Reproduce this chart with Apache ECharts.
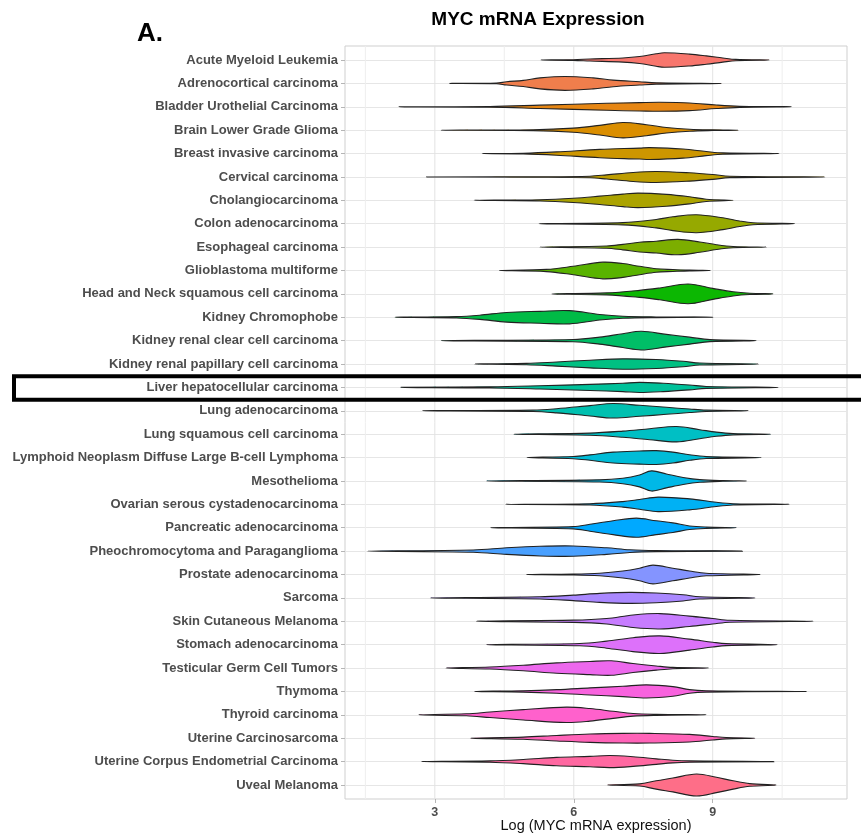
<!DOCTYPE html>
<html>
<head>
<meta charset="utf-8">
<script src="https://cdn.jsdelivr.net/npm/echarts@6/dist/echarts.min.js"></script>
<style>
  html, body { margin: 0; padding: 0; background: #fff; }
  #chart { width: 861px; height: 836px; }
</style>
</head>
<body>
<div id="chart"></div>
<script>
// ---------- DATA ----------
const categories = [
  "Acute Myeloid Leukemia",
  "Adrenocortical carcinoma",
  "Bladder Urothelial Carcinoma",
  "Brain Lower Grade Glioma",
  "Breast invasive carcinoma",
  "Cervical carcinoma",
  "Cholangiocarcinoma",
  "Colon adenocarcinoma",
  "Esophageal carcinoma",
  "Glioblastoma multiforme",
  "Head and Neck squamous cell carcinoma",
  "Kidney Chromophobe",
  "Kidney renal clear cell carcinoma",
  "Kidney renal papillary cell carcinoma",
  "Liver hepatocellular carcinoma",
  "Lung adenocarcinoma",
  "Lung squamous cell carcinoma",
  "Lymphoid Neoplasm Diffuse Large B-cell Lymphoma",
  "Mesothelioma",
  "Ovarian serous cystadenocarcinoma",
  "Pancreatic adenocarcinoma",
  "Pheochromocytoma and Paraganglioma",
  "Prostate adenocarcinoma",
  "Sarcoma",
  "Skin Cutaneous Melanoma",
  "Stomach adenocarcinoma",
  "Testicular Germ Cell Tumors",
  "Thymoma",
  "Thyroid carcinoma",
  "Uterine Carcinosarcoma",
  "Uterine Corpus Endometrial Carcinoma",
  "Uveal Melanoma"
];

// minimum / maximum of each group (violin tail ends)
const tailMin = [5.29, 3.32, 2.23, 3.14, 4.02, 2.82, 3.85, 5.25, 5.27, 4.39, 5.53, 2.14, 3.14, 3.86, 2.27, 2.73,
                 4.71, 4.99, 4.12, 4.53, 4.20, 1.55, 4.98, 2.91, 3.90, 4.12, 3.24, 3.86, 2.65, 3.77, 2.71, 6.73];
const tailMax = [10.22, 9.19, 10.70, 9.55, 10.43, 11.42, 9.44, 10.77, 10.16, 8.95, 10.30, 9.00, 9.94, 9.99, 10.41, 9.77,
                 10.25, 10.05, 9.73, 10.65, 9.51, 9.64, 10.03, 9.91, 11.17, 10.39, 8.91, 11.02, 8.86, 9.91, 10.32, 10.37];

// density profile of each violin body: [log expression, relative density]
const bodyProfiles = [
  [[5.99,0.03],[6.35,0.09],[7.06,0.19],[7.42,0.32],[7.78,0.57],[7.96,0.66],[8.50,0.54],[8.86,0.38],[9.22,0.19],[9.50,0.06]],
  [[4.33,0.03],[4.55,0.15],[4.91,0.28],[5.27,0.50],[5.81,0.63],[6.42,0.50],[6.85,0.30],[7.42,0.15],[7.78,0.06]],
  [[4.19,0.03],[5.27,0.15],[6.71,0.32],[7.42,0.38],[7.86,0.41],[8.50,0.35],[9.08,0.16],[9.58,0.05]],
  [[5.12,0.04],[5.99,0.19],[6.56,0.44],[7.06,0.70],[7.57,0.50],[8.00,0.25],[8.50,0.09],[9.00,0.03]],
  [[4.91,0.03],[5.63,0.15],[6.56,0.38],[7.42,0.50],[7.64,0.54],[8.36,0.41],[8.86,0.19],[9.22,0.06]],
  [[5.27,0.02],[6.35,0.07],[6.71,0.19],[7.28,0.41],[7.78,0.50],[8.50,0.38],[9.00,0.22],[9.37,0.06]],
  [[5.27,0.06],[5.99,0.19],[6.56,0.38],[7.06,0.57],[7.39,0.66],[8.00,0.54],[8.50,0.32],[8.86,0.10]],
  [[7.06,0.10],[7.78,0.38],[8.14,0.63],[8.65,0.82],[9.22,0.54],[9.58,0.25],[9.87,0.09]],
  [[6.71,0.10],[7.06,0.25],[7.42,0.44],[7.78,0.54],[8.25,0.70],[8.72,0.47],[9.08,0.22],[9.44,0.06]],
  [[5.41,0.10],[5.99,0.38],[6.63,0.76],[7.06,0.63],[7.42,0.38],[7.78,0.16],[8.14,0.09],[8.50,0.03]],
  [[6.71,0.09],[7.42,0.32],[7.86,0.54],[8.47,0.90],[9.00,0.50],[9.44,0.19],[9.80,0.06]],
  [[3.47,0.06],[3.97,0.19],[4.55,0.44],[5.27,0.54],[5.91,0.60],[6.56,0.25],[7.06,0.09],[7.78,0.03]],
  [[5.99,0.10],[6.56,0.32],[7.06,0.63],[7.46,0.85],[8.00,0.57],[8.50,0.32],[8.94,0.09]],
  [[4.98,0.06],[5.63,0.19],[6.35,0.35],[7.06,0.47],[7.78,0.41],[8.36,0.25],[8.72,0.09]],
  [[4.19,0.05],[5.27,0.15],[6.35,0.28],[7.06,0.38],[7.42,0.46],[7.93,0.38],[8.50,0.22],[8.86,0.09]],
  [[5.12,0.06],[5.63,0.19],[6.35,0.47],[6.85,0.66],[7.42,0.50],[8.00,0.32],[8.50,0.16],[8.86,0.06]],
  [[6.35,0.10],[7.06,0.28],[7.64,0.50],[8.22,0.70],[8.72,0.41],[9.08,0.19],[9.44,0.06]],
  [[5.99,0.10],[6.35,0.25],[6.85,0.50],[7.42,0.60],[7.78,0.63],[8.14,0.50],[8.50,0.25],[8.86,0.09]],
  [[6.56,0.10],[7.06,0.25],[7.42,0.54],[7.68,0.92],[8.00,0.63],[8.36,0.32],[8.72,0.12],[9.22,0.03]],
  [[6.35,0.06],[7.06,0.25],[7.42,0.44],[7.82,0.66],[8.50,0.50],[9.08,0.19],[9.44,0.06]],
  [[5.99,0.10],[6.35,0.32],[6.85,0.63],[7.35,0.87],[7.78,0.63],[8.14,0.44],[8.50,0.16],[8.86,0.06]],
  [[3.83,0.10],[4.55,0.30],[5.27,0.44],[5.99,0.47],[6.71,0.30],[7.21,0.12],[7.78,0.05]],
  [[5.99,0.04],[6.56,0.12],[7.06,0.32],[7.42,0.57],[7.71,0.85],[8.14,0.57],[8.50,0.32],[8.86,0.12]],
  [[5.27,0.10],[5.99,0.25],[6.56,0.41],[7.21,0.50],[7.78,0.44],[8.36,0.28],[8.72,0.10]],
  [[5.99,0.10],[6.71,0.25],[7.28,0.57],[7.86,0.70],[8.50,0.47],[9.00,0.25],[9.37,0.09]],
  [[6.13,0.10],[6.71,0.32],[7.28,0.63],[7.86,0.80],[8.50,0.50],[9.00,0.22],[9.29,0.09]],
  [[4.19,0.09],[4.91,0.25],[5.63,0.47],[6.35,0.60],[6.81,0.66],[7.28,0.41],[7.78,0.19],[8.14,0.06]],
  [[4.91,0.06],[5.63,0.16],[6.35,0.32],[7.06,0.47],[7.57,0.60],[8.14,0.44],[8.50,0.16],[8.86,0.06]],
  [[3.68,0.09],[4.19,0.25],[4.91,0.47],[5.84,0.70],[6.35,0.57],[6.85,0.32],[7.28,0.12],[7.78,0.05]],
  [[4.91,0.10],[5.63,0.25],[6.35,0.38],[7.06,0.44],[7.64,0.44],[8.50,0.35],[9.00,0.16],[9.29,0.06]],
  [[4.19,0.06],[4.91,0.19],[5.63,0.38],[6.35,0.47],[6.78,0.55],[7.28,0.44],[7.78,0.25],[8.14,0.12],[8.50,0.06]],
  [[7.42,0.10],[7.78,0.38],[8.14,0.63],[8.65,1.00],[9.08,0.70],[9.44,0.38],[9.80,0.12]]
];

const majorBreaks = [3, 6, 9];
const minorBreaks = [1.5, 4.5, 7.5, 10.5];
const xLimits = [1.06, 11.9];

// ---------- ggplot-like hue palette ----------
function hcl(h, c, l) {
  const hr = h * Math.PI / 180;
  const U = c * Math.cos(hr), V = c * Math.sin(hr);
  const Xn = 95.047, Yn = 100.0, Zn = 108.883;
  const den = Xn + 15 * Yn + 3 * Zn;
  const un = 4 * Xn / den, vn = 9 * Yn / den;
  const Y = Yn * (l > 7.999592 ? Math.pow((l + 16) / 116, 3) : l / 903.3);
  const u = U / (13 * l) + un, v = V / (13 * l) + vn;
  const X = 9.0 * Y * u / (4 * v);
  const Z = -X / 3 - 5 * Y + 3 * Y / v;
  const x = X / 100, y = Y / 100, z = Z / 100;
  const lin = [
    3.240479 * x - 1.537150 * y - 0.498535 * z,
    -0.969256 * x + 1.875992 * y + 0.041556 * z,
    0.055648 * x - 0.204043 * y + 1.057311 * z
  ];
  const g = lin.map(t => {
    let s = t > 0.00304 ? 1.055 * Math.pow(t, 1 / 2.4) - 0.055 : 12.92 * t;
    s = Math.max(0, Math.min(1, s));
    return Math.round(s * 255);
  });
  return 'rgb(' + g.join(',') + ')';
}
const nCat = categories.length;
const colors = categories.map((_, i) => hcl(15 + 360 * i / nCat, 100, 65));

// ---------- CHART ----------
const chart = echarts.init(document.getElementById('chart'), null, { renderer: 'canvas' });

const panel = { left: 345, right: 14, top: 46, bottom: 37 };
// category rows: ggplot discrete expansion of 0.6 units on each side
const unit = (836 - panel.top - panel.bottom) / (nCat - 1 + 1.2);
const rowTop = panel.top + 0.6 * unit;
const rowBottom = panel.bottom + 0.6 * unit;

const labelFont = '"Liberation Sans", Arial, Helvetica, sans-serif';

const option = {
  backgroundColor: '#ffffff',
  animation: false,
  grid: [
    { left: panel.left, right: panel.right, top: panel.top, bottom: panel.bottom,
      show: true, borderColor: '#cfcfcf', borderWidth: 1, backgroundColor: 'transparent', containLabel: false },
    { left: panel.left, right: panel.right, top: rowTop, bottom: rowBottom, containLabel: false }
  ],
  xAxis: [
    { type: 'value', gridIndex: 0, min: xLimits[0], max: xLimits[1],
      axisLine: { show: false },
      axisTick: { show: true, length: 4, customValues: majorBreaks, lineStyle: { color: '#b5b5b5', width: 1 } },
      axisLabel: { show: true, customValues: majorBreaks, margin: 7, color: '#4d4d4d',
                   fontFamily: labelFont, fontWeight: 'bold', fontSize: 12.5 },
      splitLine: { show: false } },
    { type: 'value', gridIndex: 1, min: xLimits[0], max: xLimits[1], show: false,
      splitLine: { show: false } }
  ],
  yAxis: [
    { type: 'value', gridIndex: 0, min: 0, max: 1, show: false, splitLine: { show: false } },
    { type: 'category', gridIndex: 1, data: categories, inverse: true, boundaryGap: false,
      axisLine: { show: false },
      axisTick: { show: true, length: 4, lineStyle: { color: '#b5b5b5', width: 1 } },
      axisLabel: { show: true, interval: 0, margin: 7, color: '#4d4d4d',
                   fontFamily: labelFont, fontWeight: 'bold', fontSize: 13 },
      splitLine: { show: true, interval: 0, lineStyle: { color: '#e6e6e6', width: 1 } } }
  ],
  series: [
    {
      type: 'custom', name: 'grid', coordinateSystem: 'cartesian2d',
      xAxisIndex: 0, yAxisIndex: 0, silent: true, z: 1,
      data: majorBreaks.map(v => [v, 1]).concat(minorBreaks.map(v => [v, 0])),
      encode: { x: 0 },
      renderItem: function (params, api) {
        const v = api.value(0);
        const major = api.value(1) === 1;
        const p0 = api.coord([v, 0]);
        const p1 = api.coord([v, 1]);
        return { type: 'line', shape: { x1: p0[0], y1: p0[1], x2: p1[0], y2: p1[1] },
                 style: { stroke: major ? '#e3e3e3' : '#eeeeee', lineWidth: 1 } };
      }
    },
    {
      type: 'custom', name: 'violins', coordinateSystem: 'cartesian2d',
      xAxisIndex: 1, yAxisIndex: 1, silent: true, z: 3,
      data: categories.map((c, i) => [tailMin[i], i, tailMax[i]]),
      encode: { x: [0, 2], y: 1 },
      renderItem: function (params, api) {
        const i = api.value(1);
        const pts = [[tailMin[i], 0]].concat(bodyProfiles[i], [[tailMax[i], 0]]);
        const band = Math.abs(api.coord([tailMin[i], 1])[1] - api.coord([tailMin[i], 0])[1]);
        const half = 0.47 * band;
        const top = pts.map(p => { const c = api.coord([p[0], i]); return [c[0], c[1] - p[1] * half]; });
        const bottom = pts.slice(1, -1).reverse().map(p => { const c = api.coord([p[0], i]); return [c[0], c[1] + p[1] * half]; });
        return {
          type: 'polygon',
          shape: { points: top.concat(bottom), smooth: 0.35 },
          style: { fill: colors[i], stroke: '#222222', lineWidth: 1.1 }
        };
      }
    }
  ],
  graphic: [
    { type: 'text', x: 538, y: 19.5, z: 10,
      style: { text: 'MYC mRNA Expression', x: 0, y: 0, textAlign: 'center', textVerticalAlign: 'middle',
               font: 'bold 19px ' + labelFont, fill: '#000' } },
    { type: 'text', x: 137, y: 34, z: 10,
      style: { text: 'A.', x: 0, y: 0, textAlign: 'left', textVerticalAlign: 'middle',
               font: 'bold 26px ' + labelFont, fill: '#000' } },
    { type: 'text', x: 596, y: 826, z: 10,
      style: { text: 'Log (MYC mRNA expression)', x: 0, y: 0, textAlign: 'center', textVerticalAlign: 'middle',
               font: '14.5px ' + labelFont, fill: '#111' } },
    { type: 'rect', z: 20, silent: true,
      shape: { x: 14, y: 376.3, width: 860, height: 23.4 },
      style: { fill: 'none', stroke: '#000', lineWidth: 4 } }
  ]
};

chart.setOption(option);
</script>
</body>
</html>
